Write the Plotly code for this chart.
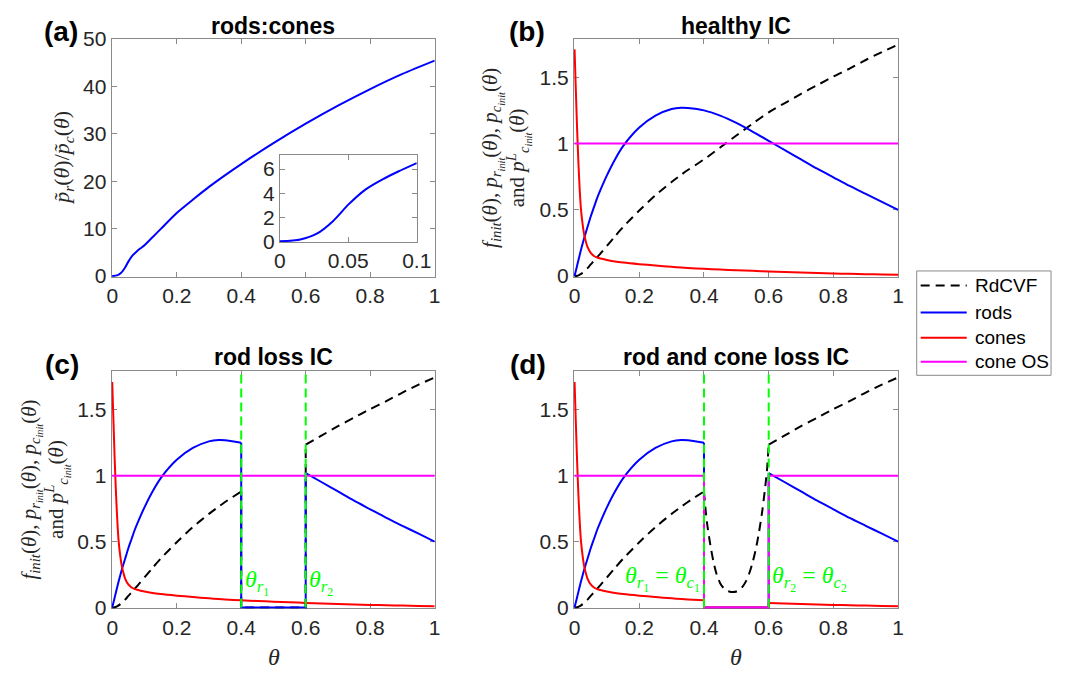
import plotly.graph_objects as go

# ---------------- data ----------------
# (a) rods:cones ratio
theta_a = [0, 0.015, 0.027, 0.039, 0.05, 0.0625, 0.075, 0.0865, 0.1, 0.125, 0.15, 0.2,
           0.25, 0.3, 0.4, 0.5, 0.6, 0.7, 0.8, 0.9, 1.0]
ratio_a = [0, 0.16, 0.64, 1.7, 3.05, 4.3, 5.15, 5.8, 6.5, 8.2, 9.9, 13.3,
           16.1, 18.8, 23.6, 28.0, 32.1, 35.9, 39.4, 42.6, 45.4]

# healthy initial conditions, common theta grid
theta = [0, 0.004, 0.008, 0.012, 0.016, 0.02, 0.025, 0.03, 0.035, 0.04, 0.05, 0.06,
         0.07, 0.08, 0.1, 0.125, 0.15, 0.2, 0.25, 0.3, 0.33, 0.35, 0.4, 0.45, 0.5,
         0.55, 0.6, 0.65, 0.7, 0.75, 0.8, 0.85, 0.9, 0.95, 1.0]
rods = [0, 0.04, 0.08, 0.12, 0.16, 0.2, 0.245, 0.29, 0.33, 0.37, 0.45, 0.52,
        0.59, 0.65, 0.76, 0.88, 0.98, 1.12, 1.21, 1.26, 1.27, 1.268, 1.25, 1.21, 1.155,
        1.09, 1.02, 0.95, 0.88, 0.81, 0.745, 0.68, 0.62, 0.56, 0.5]
cones = [1.71, 1.40, 1.10, 0.85, 0.65, 0.50, 0.39, 0.31, 0.26, 0.22, 0.175, 0.152,
         0.14, 0.133, 0.122, 0.11, 0.102, 0.09, 0.08, 0.07, 0.065, 0.062, 0.055, 0.05, 0.044,
         0.04, 0.035, 0.031, 0.027, 0.023, 0.02, 0.017, 0.015, 0.012, 0.01]
rdcvf = [0, 0.001, 0.003, 0.006, 0.011, 0.017, 0.026, 0.037, 0.048, 0.06, 0.088, 0.115,
         0.143, 0.17, 0.228, 0.3, 0.37, 0.495, 0.61, 0.71, 0.765, 0.8, 0.88, 0.97, 1.06,
         1.15, 1.235, 1.305, 1.375, 1.44, 1.505, 1.565, 1.63, 1.69, 1.745]
theta_os = [0, 1]
cone_os = [1, 1]

# degenerate patch thresholds
theta_r1, theta_r2 = 0.4, 0.6
gap_theta_flat = [0.4, 0.6]
gap_zero = [0, 0]
# RdCVF inside the patch in (d)
gap_theta_d = [0.4, 0.405, 0.41, 0.42, 0.43, 0.44, 0.45, 0.46, 0.47, 0.48, 0.49, 0.5,
               0.51, 0.52, 0.53, 0.54, 0.55, 0.56, 0.57, 0.58, 0.59, 0.595, 0.6]
rdcvf_gap_d = [0.88, 0.74, 0.63, 0.47, 0.34, 0.245, 0.185, 0.15, 0.13, 0.12, 0.118, 0.122,
               0.135, 0.16, 0.2, 0.26, 0.34, 0.44, 0.57, 0.73, 0.93, 1.05, 1.235]

legend_names = ['RdCVF', 'rods', 'cones', 'cone OS']

# ---------------- styles ----------------
BLACK, BLUE, RED, MAG, GREEN = '#000000', '#0000ff', '#ff0000', '#ff00ff', '#00ff00'
LW = 2
DASH = '9px,6px'
GDASH = '9px,5px'
SMOOTH = 0.7

fig = go.Figure()

def add(x, y, color, ax, dash='solid', shape='spline'):
    fig.add_trace(go.Scatter(x=x, y=y, mode='lines',
                             line=dict(color=color, width=LW, dash=dash, shape=shape,
                                       smoothing=SMOOTH if shape == 'spline' else None),
                             xaxis='x' + ax, yaxis='y' + ax,
                             showlegend=False, hoverinfo='skip'))

def add_gap(th, vals, gth, gvals, color, ax, dash='solid', gap_shape='linear'):
    lx = [t for t in th if t <= theta_r1]
    ly = [v for t, v in zip(th, vals) if t <= theta_r1]
    rx = [t for t in th if t >= theta_r2]
    ry = [v for t, v in zip(th, vals) if t >= theta_r2]
    add(lx, ly, color, ax, dash)
    if gap_shape == 'linear':
        add([lx[-1]] + list(gth) + [rx[0]], [ly[-1]] + list(gvals) + [ry[0]],
            color, ax, dash, 'linear')
    else:
        add(list(gth), list(gvals), color, ax, dash, 'spline')
        add([gth[-1], rx[0]], [gvals[-1], ry[0]], color, ax, dash, 'linear')
    add(rx, ry, color, ax, dash)

# (a)
add(theta_a, ratio_a, BLUE, '')
# inset
ti = [t for t in theta_a if t <= 0.1]
ri = [r for t, r in zip(theta_a, ratio_a) if t <= 0.1]
add(ti, ri, BLUE, '5')

# (b) healthy
add(theta, rdcvf, BLACK, '2', DASH)
add(theta, rods, BLUE, '2')
add(theta, cones, RED, '2')
add(theta_os, cone_os, MAG, '2', 'solid', 'linear')

# (c) rod loss
add_gap(theta, rdcvf, gap_theta_flat, gap_zero, BLACK, '3', DASH)
add_gap(theta, rods, gap_theta_flat, gap_zero, BLUE, '3')
add(theta, cones, RED, '3')
add(theta_os, cone_os, MAG, '3', 'solid', 'linear')

# (d) rod and cone loss
add_gap(theta, rdcvf, gap_theta_d, rdcvf_gap_d, BLACK, '4', DASH, 'spline')
add_gap(theta, rods, gap_theta_flat, gap_zero, BLUE, '4')
add_gap(theta, cones, gap_theta_flat, gap_zero, RED, '4')
add_gap(theta_os, cone_os + [], [0.4, 0.4, 0.6, 0.6], [1, 0, 0, 1], MAG, '4')

# green threshold lines in (c) and (d)
YTOP = 1.79
for ax in ('3', '4'):
    for t in (theta_r1, theta_r2):
        add([t, t], [0, YTOP], GREEN, ax, GDASH, 'linear')

# ---------------- layout ----------------
W, H = 1068, 682
AXC = '#8a8a8a'
TICKFONT = dict(family='Liberation Sans, Arial', size=21, color='#262626')

def px_dom(a, b, size, flip=False):
    if flip:
        return [1 - b / size, 1 - a / size]
    return [a / size, b / size]

def xax(dom, anchor, rng, tv, tt):
    return dict(domain=dom, anchor=anchor, range=rng, tickvals=tv, ticktext=tt,
                showline=True, mirror='ticks', linecolor=AXC, linewidth=1,
                ticks='inside', ticklen=5, tickcolor=AXC, tickfont=TICKFONT,
                showgrid=False, zeroline=False, layer='below traces', fixedrange=True)

tx = [0, 0.2, 0.4, 0.6, 0.8, 1]
tx_t = ['0', '0.2', '0.4', '0.6', '0.8', '1']
ty = [0, 0.5, 1, 1.5]
ty_t = ['0', '0.5', '1', '1.5']

xa_dom = px_dom(107.7, 437.3, W)
xb_dom = px_dom(579.3, 910, W)
ytop_dom = px_dom(27.7, 274.3, H, True)
ybot_dom = px_dom(372, 617.3, H, True)

yr = [-0.007, YTOP]
layout = dict(
    width=W, height=H, margin=dict(l=0, r=0, t=0, b=0),
    paper_bgcolor='white', plot_bgcolor='white', showlegend=False,
    xaxis=xax(xa_dom, 'y', [-0.002, 1], tx, tx_t),
    yaxis=xax(ytop_dom, 'x', [-0.2, 50], [0, 10, 20, 30, 40, 50], ['0', '10', '20', '30', '40', '50']),
    xaxis2=xax(xb_dom, 'y2', [-0.002, 1], tx, tx_t),
    yaxis2=xax(ytop_dom, 'x2', yr, ty, ty_t),
    xaxis3=xax(xa_dom, 'y3', [-0.002, 1], tx, tx_t),
    yaxis3=xax(ybot_dom, 'x3', yr, ty, ty_t),
    xaxis4=xax(xb_dom, 'y4', [-0.002, 1], tx, tx_t),
    yaxis4=xax(ybot_dom, 'x4', yr, ty, ty_t),
    xaxis5=xax(px_dom(279.3, 419, W), 'y5', [0, 0.1], [0, 0.05, 0.1], ['0', '0.05', '0.1']),
    yaxis5=xax(px_dom(148, 238, H, True), 'x5', [-0.05, 7.17], [0, 2, 4, 6], ['0', '2', '4', '6']),
)
fig.update_layout(**layout)

ann = []
def A(text, xp, yp, size, bold=False, family='Liberation Sans, Arial', color='#000', angle=0,
      xanchor='center'):
    ann.append(dict(text=('<b>%s</b>' % text) if bold else text, x=xp / W, y=1 - yp / H,
                    xref='paper', yref='paper', showarrow=False, xanchor=xanchor,
                    yanchor='middle', textangle=angle,
                    font=dict(family=family, size=size, color=color)))

# titles
A('rods:cones', 272.5, 14, 23, True)
A('healthy IC', 745, 14, 23, True)
A('rod loss IC', 272.5, 357, 23, True)
A('rod and cone loss IC', 745, 357, 23, True)
# panel letters
A('(a)', 56, 20, 28, True)
A('(b)', 531, 20, 28, True)
A('(c)', 57, 365, 28, True)
A('(d)', 532, 365, 28, True)

SERIF = 'Liberation Serif, DejaVu Serif, serif'
ylab_a = '<i>p̃</i><sub><i>r</i></sub>(<i>θ</i>)/<i>p̃</i><sub><i>c</i></sub>(<i>θ</i>)'
ylab_bc = ('<i>f</i><sub><i>init</i></sub>(<i>θ</i>), <i>p</i><sub><i>r</i><sub><i>init</i></sub></sub>(<i>θ</i>), '
           '<i>p</i><sub><i>c</i><sub><i>init</i></sub></sub>(<i>θ</i>)<br>'
           'and <i>p</i><sup><i>L</i></sup><sub><i>c</i><sub><i>init</i></sub></sub>(<i>θ</i>)')
A(ylab_a, 58, 151, 22, family=SERIF, color='#262626', angle=-90)
A(ylab_bc, 510, 151, 21, family=SERIF, color='#262626', angle=-90)
A(ylab_bc, 40, 494, 21, family=SERIF, color='#262626', angle=-90)
# x labels
A('<i>θ</i>', 273, 667, 24, family=SERIF, color='#262626')
A('<i>θ</i>', 745, 667, 24, family=SERIF, color='#262626')

# green threshold labels
def G(text, xv, yv, xr, yr_, anchor):
    ann.append(dict(text=text, x=xv, y=yv, xref=xr, yref=yr_, showarrow=False,
                    xanchor=anchor, yanchor='middle',
                    font=dict(family=SERIF, size=24, color=GREEN)))

G('<i>θ</i><sub><i>r</i><sub>1</sub></sub>', 0.405, 0.19, 'x3', 'y3', 'left')
G('<i>θ</i><sub><i>r</i><sub>2</sub></sub>', 0.605, 0.19, 'x3', 'y3', 'left')
G('<i>θ</i><sub><i>r</i><sub>1</sub></sub> = <i>θ</i><sub><i>c</i><sub>1</sub></sub>', 0.395, 0.22, 'x4', 'y4', 'right')
G('<i>θ</i><sub><i>r</i><sub>2</sub></sub> = <i>θ</i><sub><i>c</i><sub>2</sub></sub>', 0.605, 0.22, 'x4', 'y4', 'left')

# manual legend (box, line samples, labels)
LX0, LX1, LY0, LY1 = 929, 1066, 268, 376
shapes = [dict(type='rect', xref='paper', yref='paper', x0=LX0 / W, x1=LX1 / W,
               y0=1 - LY1 / H, y1=1 - LY0 / H, line=dict(color=AXC, width=1),
               fillcolor='white', layer='above')]
leg_colors = [BLACK, BLUE, RED, MAG]
leg_dash = [DASH, 'solid', 'solid', 'solid']
leg_y = [283, 311, 337, 362]
for name, c, d, yy in zip(legend_names, leg_colors, leg_dash, leg_y):
    shapes.append(dict(type='line', xref='paper', yref='paper', x0=933 / W, x1=980 / W,
                       y0=1 - yy / H, y1=1 - yy / H, line=dict(color=c, width=LW, dash=d),
                       layer='above'))
    A(name, 986, yy, 19, family='Liberation Sans, Arial', color='#000', xanchor='left')

fig.update_layout(annotations=ann, shapes=shapes)
fig.write_html('out.html')
